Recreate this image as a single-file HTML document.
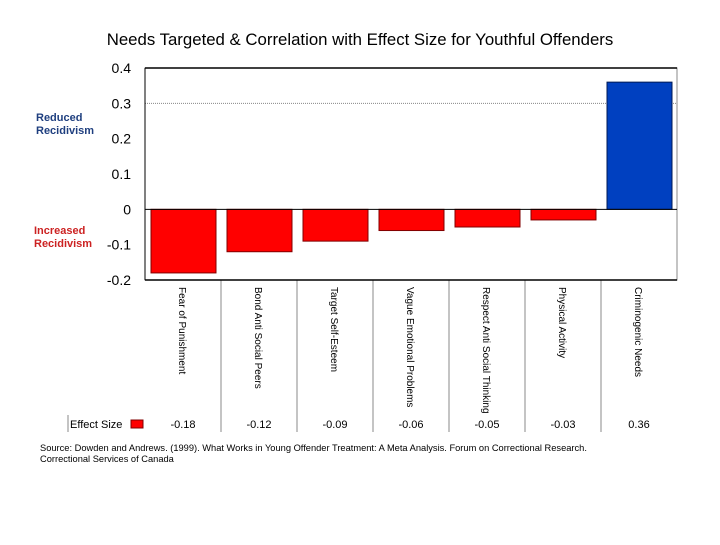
<!DOCTYPE html>
<html><head><meta charset="utf-8"><style>
body{margin:0;background:#fff;}
svg text{font-family:"Liberation Sans",Arial,sans-serif;}
</style></head><body>
<svg width="720" height="540" viewBox="0 0 720 540" id="c">
<text x="360" y="45" text-anchor="middle" font-size="16.8" fill="#000">Needs Targeted &amp; Correlation with Effect Size for Youthful Offenders</text>
<text x="36" y="121" font-size="11" fill="#1f3f7f" font-weight="bold">Reduced</text>
<text x="36" y="134" font-size="11" fill="#1f3f7f" font-weight="bold">Recidivism</text>
<text x="34" y="234" font-size="11" fill="#cc2222" font-weight="bold">Increased</text>
<text x="34" y="247" font-size="11" fill="#cc2222" font-weight="bold">Recidivism</text>
<g id="plot"></g>
<text x="40" y="451" font-size="9.3" fill="#000">Source: Dowden and Andrews. (1999). What Works in Young Offender Treatment: A Meta Analysis.  Forum on Correctional Research.</text>
<text x="40" y="462" font-size="9.3" fill="#000">Correctional Services of Canada</text>
</svg>
<script>
const categories=["Fear of Punishment","Bond Anti Social Peers","Target Self-Esteem","Vague Emotional Problems","Respect Anti Social Thinking","Physical Activity","Criminogenic Needs"];
const values=[-0.18,-0.12,-0.09,-0.06,-0.05,-0.03,0.36];
const valueLabels=["-0.18","-0.12","-0.09","-0.06","-0.05","-0.03","0.36"];
const yTicks=[0.4,0.3,0.2,0.1,0,-0.1,-0.2];
const yTickLabels=["0.4","0.3","0.2","0.1","0","-0.1","-0.2"];
const NS="http://www.w3.org/2000/svg";
const L=145,R=677,T=68,B=280,ymin=-0.2,ymax=0.4;
const y=v=>B-(v-ymin)/(ymax-ymin)*(B-T);
const bw=(R-L)/categories.length;
const x=i=>L+i*bw;
const g=document.getElementById('plot');
function mk(t,a){const e=document.createElementNS(NS,t);for(const k in a)e.setAttribute(k,a[k]);g.appendChild(e);return e;}
let e=mk('rect',{x:L,y:T,width:R-L,height:B-T,fill:'#fff',stroke:'#888','stroke-width':1});


e=mk('line',{x1:L,y1:T,x2:R,y2:T,stroke:'#000','stroke-width':1.5});


e=mk('line',{x1:L,y1:y(0.3),x2:R,y2:y(0.3),stroke:'#888','stroke-width':1,'stroke-dasharray':'1,1'});


yTicks.forEach((v,i)=>{
 const t=mk('text',{x:131,y:y(v)+5,'text-anchor':'end','font-size':14,fill:'#000'});
 t.textContent=yTickLabels[i];
 
 
});
values.forEach((v,i)=>{
 const y0=y(0),y1=y(v);
 const r=mk('rect',{x:x(i)+6,y:Math.min(y0,y1),width:bw-11,height:Math.abs(y1-y0),fill:v<0?'#ff0000':'#0040c0',stroke:v<0?'#800000':'#001a55','stroke-width':1});
 
 
 const t=mk('text',{transform:`translate(${x(i)+bw/2-4},287) rotate(90)`,'font-size':10,fill:'#000'});
 t.textContent=categories[i];
 
 
 const vt=mk('text',{x:x(i)+bw/2,y:428,'text-anchor':'middle','font-size':11,fill:'#000'});
 vt.textContent=valueLabels[i];
 
 
 if(i>0){const s=mk('line',{x1:x(i),y1:B,x2:x(i),y2:432,stroke:'#888','stroke-width':1});
 
 }
});
e=mk('line',{x1:L,y1:B,x2:R,y2:B,stroke:'#000','stroke-width':1.5});


e=mk('line',{x1:L,y1:y(0),x2:R,y2:y(0),stroke:'#000','stroke-width':1});


e=mk('line',{x1:L,y1:T,x2:L,y2:B,stroke:'#000','stroke-width':1});


e=mk('line',{x1:68,y1:415,x2:68,y2:432,stroke:'#888','stroke-width':1});


e=mk('text',{x:70,y:428,'font-size':11,fill:'#000'});
e.textContent='Effect Size';


e=mk('rect',{x:131,y:420,width:12,height:8,fill:'#ff0000',stroke:'#800000'});


</script>
</body></html>
